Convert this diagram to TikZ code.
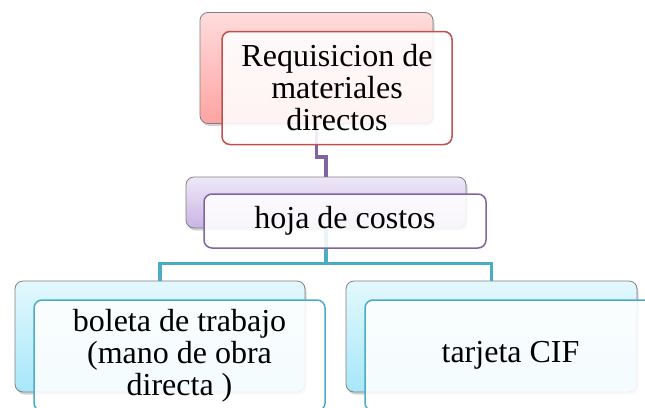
\documentclass[tikz,border=0pt]{standalone}
\usepackage{fontspec}
\setmainfont{Liberation Serif}
\usepackage{tikz}
\usetikzlibrary{shadows}
\definecolor{pinktop}{HTML}{FFDCDC}
\definecolor{pinkbot}{HTML}{FFA3A3}
\definecolor{lavtop}{HTML}{EFE8F8}
\definecolor{lavbot}{HTML}{C8B4E3}
\definecolor{cyantop}{HTML}{E3F8FD}
\definecolor{cyanbot}{HTML}{A6E7FA}
\definecolor{redline}{HTML}{C0504D}
\definecolor{purpleline}{HTML}{8064A2}
\definecolor{tealline}{HTML}{4BACC6}
\tikzstyle{backbox}=[draw=black!50,line width=0.8pt,rounded corners=8pt,inner sep=0pt,drop shadow={shadow xshift=1.5pt,shadow yshift=-2.5pt,opacity=0.35}]
\tikzstyle{frontbox}=[fill=white,fill opacity=0.88,text opacity=1,line width=1.5pt,rounded corners=8pt,inner sep=0pt,align=center,font=\fontsize{32}{32}\selectfont]
\tikzstyle{link}=[line width=3.5pt]

\begin{document}
\begin{tikzpicture}[x=1pt,y=-1pt]
\clip (0,0) rectangle (645,407);
\fill[white] (0,0) rectangle (645,407);
% back boxes
\node [backbox,top color=pinktop,bottom color=pinkbot,minimum width=233pt,minimum height=111pt] (reqback) at (316.5,68) {};
\node [backbox,top color=lavtop,bottom color=lavbot,minimum width=280pt,minimum height=51pt] (hojaback) at (326,202.5) {};
\node [backbox,top color=cyantop,bottom color=cyanbot,minimum width=290pt,minimum height=111pt] (boletaback) at (160,336.5) {};
\node [backbox,top color=cyantop,bottom color=cyanbot,minimum width=291pt,minimum height=111pt] (cifback) at (491.5,336.5) {};
% connectors
\draw [link,purpleline] (reqback.south) -- ++(0,33) -| (hojaback.north);
\draw [link,tealline] (hojaback.south) -- ++(0,35) -| (boletaback.north);
\draw [link,tealline] (hojaback.south) -- ++(0,35) -| (cifback.north);
% front boxes
\node [frontbox,draw=redline,minimum width=230pt,minimum height=113pt] (req) at (337,88) {Requisicion de\\materiales\\directos};
\node [frontbox,draw=purpleline,minimum width=282pt,minimum height=54pt] (hoja) at (345,221) {hoja de costos};
\node [frontbox,draw=tealline,minimum width=291pt,minimum height=111pt] (boleta) at (179.5,355.5) {boleta de trabajo\\(mano de obra\\directa )};
\node [frontbox,draw=tealline,minimum width=291pt,minimum height=111pt] (cif) at (510.5,355.5) {tarjeta CIF};
\end{tikzpicture}
\end{document}
